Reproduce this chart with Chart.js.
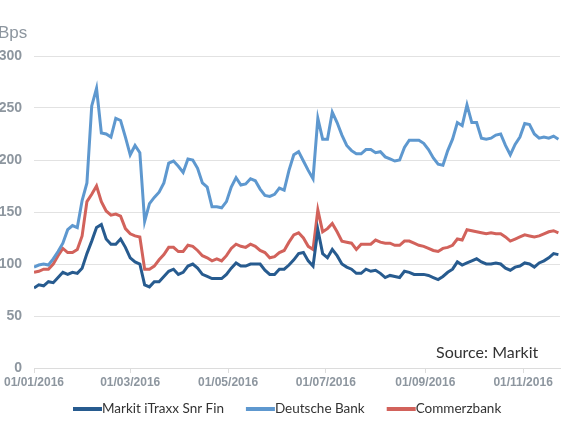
<html lang="en">
<head>
    <meta charset="UTF-8">
    <title>Bank CDS spreads 2016</title>
<style>
    body {
        margin: 0;
        background-color: #ffffff;
        overflow: hidden;
    }

    #chartContainer {
        position: relative;
        width: 580px;
        height: 435px;
    }
</style>
</head>
<body>
    <div id="chartContainer">
        <canvas id="spreadChart"></canvas>
    </div>

    <script src="https://cdn.jsdelivr.net/npm/chart.js"></script>

    <script>
        // Days since 01/01/2016, one reading every third day
        const days = [0, 3, 6, 9, 12, 15, 18, 21, 24, 27,
            30, 33, 36, 39, 42, 45, 48, 51, 54, 57,
            60, 63, 66, 69, 72, 75, 78, 81, 84, 87,
            90, 93, 96, 99, 102, 105, 108, 111, 114, 117,
            120, 123, 126, 129, 132, 135, 138, 141, 144, 147,
            150, 153, 156, 159, 162, 165, 168, 171, 174, 177,
            180, 183, 186, 189, 192, 195, 198, 201, 204, 207,
            210, 213, 216, 219, 222, 225, 228, 231, 234, 237,
            240, 243, 246, 249, 252, 255, 258, 261, 264, 267,
            270, 273, 276, 279, 282, 285, 288, 291, 294, 297,
            300, 303, 306, 309, 312, 315, 318, 321, 324, 327];

        // Spreads in basis points
        const markitSnrFin = [77, 80, 79, 83, 82, 87, 92, 90, 92, 91,
            96, 110, 122, 135, 138, 124, 119, 119, 124, 116,
            106, 102, 100, 80, 78, 83, 83, 88, 93, 95,
            90, 92, 98, 100, 96, 90, 88, 86, 86, 86,
            90, 96, 101, 98, 98, 100, 100, 100, 94, 90,
            90, 95, 95, 99, 104, 110, 111, 103, 98, 133,
            110, 106, 114, 108, 100, 97, 95, 91, 91, 95,
            93, 94, 91, 87, 89, 88, 87, 93, 92, 90,
            90, 90, 89, 87, 85, 88, 92, 95, 102, 99,
            101, 103, 105, 102, 100, 100, 101, 100, 96, 94,
            97, 98, 101, 100, 97, 101, 103, 106, 110, 109];

        const deutscheBank = [97, 99, 100, 99, 105, 112, 120, 133, 137, 135,
            161, 178, 252, 269, 226, 225, 222, 240, 238, 222,
            205, 214, 207, 141, 158, 164, 169, 178, 197, 199,
            194, 188, 201, 200, 192, 178, 174, 155, 155, 154,
            160, 174, 183, 176, 177, 182, 180, 172, 166, 165,
            167, 173, 171, 190, 205, 208, 199, 190, 182, 240,
            220, 220, 246, 236, 224, 214, 209, 206, 206, 210,
            210, 207, 208, 203, 201, 199, 200, 212, 219, 219,
            219, 216, 210, 202, 196, 195, 209, 220, 236, 233,
            253, 236, 236, 221, 220, 221, 224, 225, 214, 205,
            215, 222, 235, 234, 225, 221, 222, 221, 223, 220];

        const commerzbank = [92, 93, 95, 95, 100, 108, 115, 111, 111, 114,
            127, 160, 167, 175, 160, 151, 147, 148, 146, 134,
            129, 127, 126, 95, 95, 98, 104, 109, 116, 116,
            112, 112, 118, 117, 113, 108, 106, 103, 105, 103,
            108, 115, 119, 117, 116, 119, 117, 113, 111, 106,
            107, 111, 113, 121, 128, 130, 125, 117, 114, 152,
            131, 134, 139, 131, 122, 121, 120, 114, 119, 119,
            119, 123, 121, 120, 120, 118, 118, 122, 122, 120,
            118, 117, 115, 113, 112, 115, 116, 118, 124, 123,
            133, 132, 131, 130, 129, 130, 129, 129, 126, 122,
            124, 126, 128, 127, 126, 127, 129, 131, 132, 130];

        // Axis ticks
        const tickDays = [0, 60, 121, 182, 244, 305];
        const tickLabels = ["01/01/2016", "01/03/2016", "01/05/2016", "01/07/2016", "01/09/2016", "01/11/2016"];
        const yTicks = [0, 50, 100, 150, 200, 250, 300];

        const toPoints = (vals) => vals.map((v, i) => ({ x: days[i], y: v }));

        // Draws the unit label, the source note and the legend row
        const extrasPlugin = {
            id: 'extras',
            afterDraw(chart) {
                const c = chart.ctx;
                c.save();
                c.fillStyle = '#8d969f';
                c.font = '17px "Liberation Sans", Arial, sans-serif';
                c.textBaseline = 'middle';
                c.textAlign = 'left';
                c.fillText('Bps', -2, 33);

                c.fillStyle = '#333333';
                c.font = '16px Lato, "Open Sans", sans-serif';
                c.fillText('Source: Markit', 436, 353);

                // legend
                c.font = '13.5px Lato, "Open Sans", sans-serif';
                const lineW = 29;
                const gap = 22;
                let x = 73;
                const y = 409;
                chart.data.datasets.forEach((d) => {
                    c.strokeStyle = d.borderColor;
                    c.lineWidth = 4;
                    c.lineCap = 'butt';
                    c.beginPath();
                    c.moveTo(x, y);
                    c.lineTo(x + lineW, y);
                    c.stroke();
                    c.fillText(d.label, x + lineW, y);
                    x += lineW + c.measureText(d.label).width + gap;
                });
                c.restore();
            }
        };

        const ctx = document.getElementById('spreadChart').getContext('2d');

        const spreadChart = new Chart(ctx, {
            type: 'line',
            data: {
                datasets: [{
                    label: 'Markit iTraxx Snr Fin',
                    data: toPoints(markitSnrFin),
                    borderColor: '#275b8f',
                    borderWidth: 3,
                    pointRadius: 0,
                    tension: 0
                }, {
                    label: 'Deutsche Bank',
                    data: toPoints(deutscheBank),
                    borderColor: '#5e98cf',
                    borderWidth: 3,
                    pointRadius: 0,
                    tension: 0
                }, {
                    label: 'Commerzbank',
                    data: toPoints(commerzbank),
                    borderColor: '#d2625b',
                    borderWidth: 3,
                    pointRadius: 0,
                    tension: 0
                }]
            },
            options: {
                responsive: true,
                maintainAspectRatio: false,
                animation: false,
                layout: {
                    padding: { top: 56, right: 20, left: 0, bottom: 0 }
                },
                scales: {
                    x: {
                        type: 'linear',
                        min: 0,
                        max: 328,
                        afterBuildTicks: (s) => { s.ticks = tickDays.map(v => ({ value: v })); },
                        afterFit: (s) => { s.height = 67; },
                        grid: {
                            drawOnChartArea: false,
                            drawTicks: true,
                            tickLength: 5,
                            color: '#dcdcdc'
                        },
                        border: { color: '#dcdcdc' },
                        ticks: {
                            autoSkip: false,
                            maxRotation: 0,
                            padding: 2,
                            color: '#8d969f',
                            font: { family: '"Liberation Sans", Arial, sans-serif', size: 12, weight: 'bold' },
                            callback: (v) => tickLabels[tickDays.indexOf(v)]
                        }
                    },
                    y: {
                        min: 0,
                        max: 300,
                        afterBuildTicks: (s) => { s.ticks = yTicks.map(v => ({ value: v })); },
                        afterFit: (s) => { s.width = 34; },
                        grid: {
                            drawTicks: false,
                            color: '#e2e2e2'
                        },
                        border: { display: false },
                        ticks: {
                            padding: 12,
                            color: '#8d969f',
                            font: { family: '"Liberation Sans", Arial, sans-serif', size: 14, weight: 'bold' }
                        }
                    }
                },
                plugins: {
                    legend: { display: false },
                    tooltip: { enabled: false }
                }
            },
            plugins: [extrasPlugin]
        });
    </script>
</body>
</html>
